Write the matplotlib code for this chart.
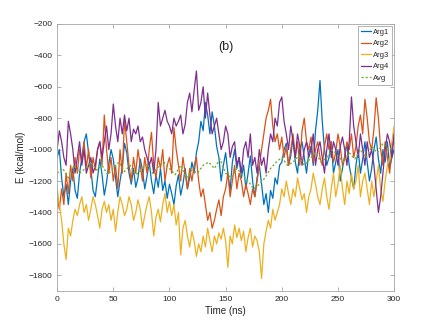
import numpy as np
import matplotlib
matplotlib.use("Agg")
import matplotlib.pyplot as plt

plt.rcParams["font.family"] = ["Liberation Sans Narrow", "Liberation Sans", "DejaVu Sans"]

# time grids (ns)
t = np.arange(0, 301, 2)
t_avg = np.arange(0, 301, 5)

arg1 = [
    -1050, -1000, -1180, -1300, -1220, -1350, -1200, -1120, -1260, -1310, -1150,
    -1050, -950, -900, -1020, -1120, -1260, -1300, -1180, -1060, -1160,
    -1290, -1210, -1090, -1000, -1060, -1180, -1300, -1200, -1110, -960,
    -1020, -1150, -1220, -1120, -1240, -1180, -1060, -1130, -1250, -1170,
    -1080, -1200, -1280, -1160, -1240, -1120, -1260, -1200, -1310, -1220,
    -1280, -1350, -1230, -1160, -1290, -1220, -1120, -1250, -1180, -1080,
    -1150, -1020, -950, -820, -880, -700, -780, -900, -760, -850,
    -980, -1050, -1200, -1100, -1020, -1150, -1260, -1080, -1000, -1120,
    -1050, -1180, -1100, -1250, -1150, -1040, -1200, -1300, -1180, -1100,
    -1220, -1350, -1280, -1400, -1260, -1310, -1180, -1220, -1100, -1080,
    -1000, -960, -1100, -1040, -920, -1080, -1150, -1000, -950, -1050,
    -1150, -1020, -980, -1100, -880, -750, -560, -820, -1000, -1100,
    -1050, -950, -1150, -1080, -1000, -1200, -1120, -1040, -960, -1100,
    -1180, -1250, -1100, -1000, -1150, -1060, -950, -1080, -1200, -1120,
    -1000, -920, -1060, -1150, -1000, -1080, -950, -1120, -1050, -1000,
]
arg2 = [
    -1300, -1380, -1250, -1350, -1150, -1280, -1100, -1200, -1050, -1150, -1000,
    -1080, -950, -1120, -1000, -1180, -1050, -1130, -1000, -950, -1100,
    -780, -1000, -1150, -1050, -1200, -1100, -1250, -1000, -1150, -810,
    -950, -1100, -1200, -1050, -1150, -1000, -1100, -1200, -1050, -1150,
    -1000, -890, -1100, -1180, -1050, -1120, -1000, -1200, -1100, -1050,
    -1150, -860, -1000, -1100, -1200, -1050, -1150, -1250, -1120, -1200,
    -1100, -1050, -1200, -1300, -1250, -1350, -1450, -1400, -1500, -1450,
    -1380, -1320, -1420, -1300, -1250, -1150, -1300, -1200, -1100, -1250,
    -1150, -1200, -1300, -1220, -1280, -1350, -1250, -1300, -1200, -1100,
    -1000, -900, -800, -750, -680, -850, -950, -900, -1000, -920,
    -1050, -980, -1100, -1000, -900, -1050, -950, -1100, -880, -800,
    -950, -1000, -920, -1080, -1000, -950, -1050, -1100, -980, -900,
    -1000, -950, -1080, -1020, -900, -980, -1100, -1050, -950, -1000,
    -900, -1050, -980, -850, -780, -900, -680, -800, -950, -1000,
    -870, -670, -800, -1000, -1100, -950, -1050, -1150, -1000, -900,
]
arg3 = [
    -1250, -1350, -1450, -1600, -1700, -1500, -1550, -1450, -1380, -1420, -1350,
    -1300, -1400, -1350, -1450, -1380, -1300, -1350, -1420, -1500, -1380,
    -1330, -1400, -1350, -1450, -1380, -1520, -1400, -1300, -1350, -1420,
    -1380, -1300, -1350, -1450, -1400, -1320, -1380, -1500, -1420, -1350,
    -1300, -1400, -1550, -1430, -1380, -1460, -1350, -1280, -1400, -1330,
    -1420, -1350, -1480, -1400, -1670, -1500, -1450, -1550, -1620, -1520,
    -1580, -1680, -1600, -1650, -1550, -1620, -1500, -1580, -1650, -1550,
    -1600, -1530, -1570, -1500, -1580, -1750, -1550, -1600, -1480, -1560,
    -1500, -1580, -1520, -1650, -1560, -1500, -1620, -1550, -1580, -1650,
    -1820, -1600, -1520, -1450, -1500, -1380, -1450, -1400, -1350, -1250,
    -1300, -1200, -1280, -1350, -1250, -1300, -1180, -1250, -1320, -1280,
    -1400, -1300, -1250, -1150, -1220, -1300, -1350, -1250, -1180, -1300,
    -1380, -1250, -1150, -1300, -1220, -1100, -1250, -1350, -1200, -1280,
    -1150, -1250, -1200, -1100, -1300, -1200, -1150, -1250, -1350, -1200,
    -1300, -1200, -1100, -1250, -1330, -1200, -1100, -1050, -950, -850,
]
arg4 = [
    -1000, -880, -950, -1050, -1100, -820, -900, -1000, -1150, -1050, -950,
    -1100, -1000, -1150, -1100, -1050, -1150, -1100, -1000, -950, -1050,
    -950, -850, -1000, -900, -710, -850, -950, -800, -900, -780,
    -880, -800, -950, -870, -900, -850, -950, -920, -1000, -1050,
    -1100, -1050, -1150, -1000, -700, -850, -800, -750, -820, -850,
    -900, -800, -850, -820, -780, -900, -840, -700, -640, -760,
    -620, -500, -750, -700, -600, -800, -640, -780, -900, -850,
    -800, -900, -1000, -950, -850, -900, -1050, -980, -950, -1100,
    -1050, -1150, -1000, -950, -1050, -900, -1100, -1050, -1150, -1000,
    -1100, -1050, -1150, -1000, -900, -950, -800, -850, -700, -665,
    -820, -900, -1000, -850, -950, -1050, -900, -980, -1100, -1000,
    -950, -1050, -1000, -900, -1100, -1000, -950, -1050, -1150, -1000,
    -900, -1050, -950, -1000, -1100, -980, -920, -1000, -1100, -950,
    -665, -850, -950, -1050, -900, -1000, -1100, -950, -1050, -1000,
    -1100, -1250, -1400, -1300, -1150, -1000, -900, -950, -1050, -900,
]
avg = [
    -1150, -1120, -1180, -1100, -1150, -1120, -1080, -1130, -1100, -1160,
    -1120, -1080, -1140, -1100, -1160, -1130, -1090, -1150, -1110, -1080,
    -1120, -1160, -1100, -1180, -1130, -1150, -1100, -1080, -1120, -1060,
    -1150, -1180, -1120, -1160, -1200, -1250, -1220, -1180, -1120, -1080,
    -1050, -1100, -1080, -1040, -1100, -1060, -1020, -1080, -1050, -1000,
    -1040, -1080, -1020, -1060, -1000, -1050, -980, -1020, -960, -1000,
    -980,
]

BLUE = "#0072BD"
ORANGE = "#D95319"
YELLOW = "#EDB120"
PURPLE = "#7E2F8E"
GREEN = "#77AC30"
AXIS = "#a6a6a6"
TEXT = "#262626"

fig = plt.figure(figsize=(4.36, 3.27), dpi=100)
ax = fig.add_axes([0.131, 0.110, 0.773, 0.817])

ax.plot(t, arg1, color=BLUE, lw=0.9, label="Arg1")
ax.plot(t, arg2, color=ORANGE, lw=0.9, label="Arg2")
ax.plot(t, arg3, color=YELLOW, lw=0.9, label="Arg3")
ax.plot(t, arg4, color=PURPLE, lw=0.9, label="Arg4")
ax.plot(t_avg, avg, color=GREEN, lw=1.0, linestyle=(0, (1.5, 1.5)), label="Avg")

ax.set_xlim(0, 300)
ax.set_ylim(-1900, -200)
ax.set_xticks(np.arange(0, 301, 50))
ax.set_yticks(np.arange(-1800, -199, 200))

ax.tick_params(direction="in", top=True, right=True, length=3, width=0.6,
               colors=AXIS, labelcolor=TEXT, labelsize=6)
for s in ax.spines.values():
    s.set_color(AXIS)
    s.set_linewidth(0.6)

ax.set_xlabel("Time (ns)", fontsize=7, color=TEXT, labelpad=2)
ax.set_ylabel("E (kcal/mol)", fontsize=7, color=TEXT, labelpad=2)
ax.text(0.5, 0.915, "(b)", transform=ax.transAxes, fontsize=9, color=TEXT,
        ha="center", va="center")

leg = ax.legend(loc="upper right", fontsize=5.5, handlelength=1.3, handletextpad=0.3,
                borderpad=0.35, labelspacing=0.55, fancybox=False, framealpha=1,
                borderaxespad=0.25)
leg.get_frame().set_edgecolor(AXIS)
leg.get_frame().set_linewidth(0.6)
for txt in leg.get_texts():
    txt.set_color(TEXT)

fig.savefig("out.png", dpi=100, facecolor="white")
